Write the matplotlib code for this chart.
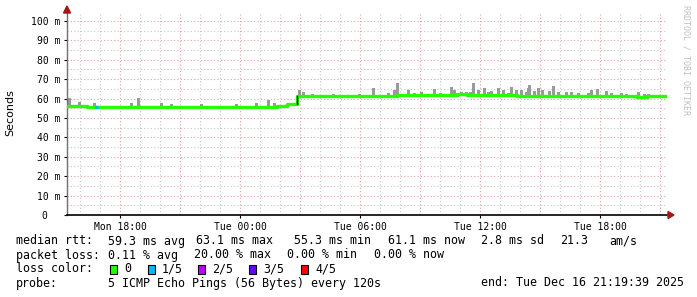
import numpy as np
import pandas as pd
import matplotlib
matplotlib.use("Agg")
import matplotlib.pyplot as plt
import matplotlib.dates as mdates
from matplotlib.patches import Rectangle, Polygon

W, H = 697, 297
END = pd.Timestamp("2025-12-16 21:19:39")
START = END - pd.Timedelta(hours=30)

# median rtt (ms), one value per 30 min, starting at START
median_ms = [56.2, 56.0, 55.9, 55.8, 55.9, 55.8, 55.7, 55.8, 55.9, 55.8,
             55.6, 55.7, 55.8, 55.6, 55.5, 55.6, 55.7, 55.6, 55.8, 55.9,
             55.8, 56.3, 57.0,
             61.5, 61.3, 61.2, 61.4, 61.3, 61.2, 61.3, 61.4, 61.3, 61.5,
             61.6, 61.8, 61.7, 61.9, 61.8, 62.0, 62.1, 61.9, 62.0, 61.8,
             61.7, 61.6, 61.5, 61.4, 61.3, 61.4, 61.2, 61.3, 61.2, 61.3,
             61.1, 61.2, 61.3, 61.2, 61.0, 61.2, 61.1]
data_end_h = 29.9

# smoke peaks: hours after START, max rtt (ms)
spike_h = [0.05, 0.55, 1.3, 3.15, 3.5, 4.65, 5.15, 6.65, 8.4, 9.4,
           10.0, 10.3, 11.15, 11.55, 11.75, 12.2, 13.25, 14.55, 15.25, 16.0,
           16.3, 16.45, 17.0, 17.3, 17.65, 18.3, 18.6, 19.15, 19.3, 19.65,
           19.9, 20.1, 20.25, 20.5, 20.8, 21.0, 21.15, 21.5, 21.75, 22.0,
           22.15, 22.4, 22.65, 22.9, 23.0, 23.05, 23.3, 23.5, 23.7, 24.05,
           24.25, 24.5, 24.9, 25.15, 25.5, 26.0, 26.15, 26.45, 26.9, 27.15,
           27.65, 27.9, 28.5, 28.8, 29.0]
spike_top = [60.3, 58.4, 57.5, 57.5, 60.5, 57.5, 57.2, 57.0, 57.3, 57.5,
             59.3, 57.8, 57.5, 64.4, 63.5, 62.3, 62.5, 62.5, 65.3, 63.0,
             64.4, 67.9, 64.4, 62.8, 63.6, 65.0, 63.0, 66.0, 64.5, 63.5,
             63.2, 63.5, 67.9, 64.5, 65.3, 63.5, 64.0, 65.3, 64.5, 63.0,
             66.0, 64.5, 64.5, 63.5, 65.6, 67.0, 64.0, 65.6, 64.5, 64.0,
             66.5, 63.5, 63.5, 63.2, 62.8, 63.0, 64.4, 64.9, 63.9, 62.8,
             62.8, 62.5, 63.6, 62.6, 62.5]

# pings lost (of 5) at some moments
loss_h = [1.45]
loss_n = [1]

loss_colors = ["#26ff00", "#00b8ff", "#c000ff", "#6a00ff", "#ff0000"]
loss_labels = ["0", "1/5", "2/5", "3/5", "4/5"]

y_ticks = [0, 10, 20, 30, 40, 50, 60, 70, 80, 90, 100]
y_labels = ["0  "] + [f"{v} m" for v in y_ticks[1:]]


def to_time(hours):
    return START + pd.to_timedelta(np.asarray(hours, dtype=float), unit="h")


def fx(x):
    return x / W


def fy(y):
    return 1 - y / H


mono = "DejaVu Sans Mono"
fig = plt.figure(figsize=(W / 100, H / 100), dpi=100)
ax = fig.add_axes([fx(67), fy(215), 600 / W, 202 / H])

# grid
for h in range(31):
    t = START.ceil("h") + pd.Timedelta(hours=h)
    if t > END:
        break
    major = t.hour % 3 == 0
    ax.axvline(t, color="#e8a0a0" if major else "#c8c8c8",
               lw=0.8, ls=(0, (1, 2)), zorder=0)
for v in np.arange(5, 105, 5):
    major = v % 10 == 0
    ax.axhline(v, color="#e8a0a0" if major else "#c8c8c8",
               lw=0.8, ls=(0, (1, 2)), zorder=0)

# smoke
bins = np.arange(len(median_ms)) * 0.5
idx = np.clip((np.asarray(spike_h) / 0.5).astype(int), 0, len(median_ms) - 1)
base = np.asarray(median_ms)[idx] - 0.4
ax.bar(to_time(spike_h), np.asarray(spike_top) - base, bottom=base,
       width=0.15 / 24, color="#9a9a9a", align="edge", zorder=2, lw=0)

# median line
xs = list(bins) + [data_end_h]
ys = list(median_ms) + [median_ms[-1]]
ax.step(to_time(xs), ys, where="post", color=loss_colors[0], lw=2.4, zorder=3)
jump = 11.5
ax.plot(to_time([jump, jump]), [57.0, 61.5], color="black", lw=1.0, zorder=4)
for h, n in zip(loss_h, loss_n):
    lvl = median_ms[int(h / 0.5)]
    ax.plot(to_time([h - 0.05, h + 0.1]), [lvl, lvl], color=loss_colors[n],
            lw=2.4, zorder=4, solid_capstyle="butt")

ax.set_xlim(START, END)
ax.set_ylim(0, 104.1)
ax.set_yticks(y_ticks)
ax.set_yticklabels(y_labels, fontfamily=mono, fontsize=7)
ax.xaxis.set_major_locator(mdates.HourLocator(byhour=[0, 6, 12, 18]))
ax.xaxis.set_major_formatter(mdates.DateFormatter("%a %H:%M"))
for lab in ax.get_xticklabels():
    lab.set_fontfamily(mono)
    lab.set_fontsize(7)
ax.tick_params(axis="both", length=2, width=0.8, pad=3, colors="black")
for s in ["top", "right"]:
    ax.spines[s].set_visible(False)
ax.spines["left"].set_color("#707070")
ax.spines["bottom"].set_color("black")
ax.spines["left"].set_linewidth(1.0)
ax.spines["bottom"].set_linewidth(1.2)
ax.set_facecolor("white")

# axis arrows
arrow_c = "#a01818"
fig.patches.append(Polygon([(fx(67), fy(6)), (fx(63.5), fy(13)), (fx(70.5), fy(13))],
                           closed=True, color=arrow_c, transform=fig.transFigure))
fig.patches.append(Polygon([(fx(674), fy(215)), (fx(668), fy(211.5)), (fx(668), fy(218.5))],
                           closed=True, color=arrow_c, transform=fig.transFigure))

fig.text(fx(10), fy(113), "Seconds", rotation=90, ha="center", va="center",
         fontsize=8, fontfamily="DejaVu Sans")
fig.text(fx(686), fy(5), "RRDTOOL / TOBI OETIKER", rotation=270, ha="center",
         va="top", fontsize=6, fontfamily=mono, color="#c0c0c0")

# legend block
fs = 8.4
rows = {
    241: [(16, "median rtt:"), (108, "59.3 ms avg"), (196, "63.1 ms max"),
          (294, "55.3 ms min"), (388, "61.1 ms now"), (481, "2.8 ms sd"),
          (560, "21.3"), (609, "am/s")],
    255: [(16, "packet loss:"), (108, "0.11 % avg"), (194, "20.00 % max"),
          (287, "0.00 % min"), (374, "0.00 % now")],
    283: [(16, "probe:"), (108, "5 ICMP Echo Pings (56 Bytes) every 120s")],
}
for y, items in rows.items():
    for x, s in items:
        fig.text(fx(x), fy(y), s, fontfamily=mono, fontsize=fs, va="center")
fig.text(fx(684), fy(283), "end: Tue Dec 16 21:19:39 2025", fontfamily=mono,
         fontsize=fs, va="center", ha="right")

fig.text(fx(16), fy(269), "loss color:", fontfamily=mono, fontsize=fs, va="center")
box_x = [110, 148, 198, 249, 301]
for bx, c, lab in zip(box_x, loss_colors, loss_labels):
    fig.patches.append(Rectangle((fx(bx), fy(273.5)), 7 / W, 9 / H, facecolor=c,
                                 edgecolor="black", lw=0.8, transform=fig.transFigure))
    fig.text(fx(bx + 14), fy(269), lab, fontfamily=mono, fontsize=fs, va="center")

fig.savefig("out.png", dpi=100, facecolor="white")
